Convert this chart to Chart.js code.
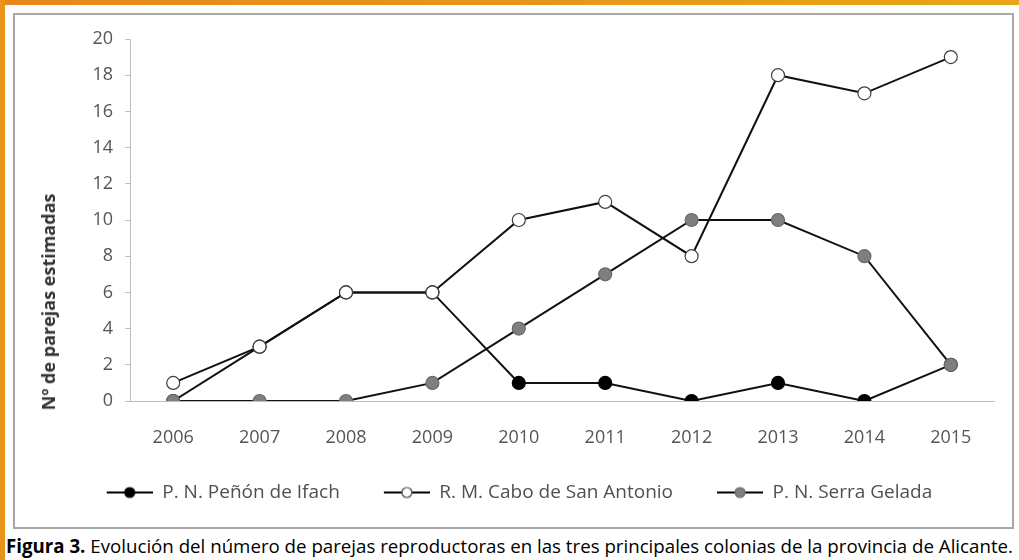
<!DOCTYPE html>
<html lang="es">
<head>
<meta charset="UTF-8">
<title>Figura 3</title>
<script src="https://cdn.jsdelivr.net/npm/chart.js"></script>
<style>
    html, body {
        margin: 0;
        padding: 0;
        width: 1019px;
        height: 560px;
        overflow: hidden;
        background: #fff;
        font-family: "Open Sans", sans-serif;
    }
    .topbar {
        position: absolute; left: 0; top: 0; width: 1019px; height: 5px;
        background: linear-gradient(to right, #e8861a, #e6a617);
    }
    .leftbar {
        position: absolute; left: 0; top: 0; width: 5px; height: 560px;
        background: #e8941a;
    }
    .frame {
        position: absolute; left: 13px; top: 13px; width: 997px; height: 512px;
        border: 2px solid #a8a8a8;
        background: #fff;
    }
    .chart-box {
        position: absolute; left: 0; top: 0; width: 997px; height: 512px;
    }
    .ytitle {
        position: absolute; left: 33px; top: 287px;
        transform: translate(-50%, -50%) rotate(-90deg);
        font-size: 18px; font-weight: 700; color: #333;
        white-space: nowrap;
    }
    .caption {
        position: absolute; left: 6px; top: 533px;
        font-size: 18.7px;
        color: #000;
        white-space: nowrap;
    }
    .caption b { font-weight: 700; }
</style>
</head>
<body>
<div class="topbar"></div>
<div class="leftbar"></div>
<div class="frame">
    <div class="chart-box"><canvas id="lineChart"></canvas></div>
    <div class="ytitle">Nº de parejas estimadas</div>
</div>
<div class="caption"><b>Figura 3.</b> Evolución del número de parejas reproductoras en las tres principales colonias de la provincia de Alicante.</div>

<script>
    // datos
    const years = ['2006', '2007', '2008', '2009', '2010', '2011', '2012', '2013', '2014', '2015'];
    const penonIfach = [0, 3, 6, 6, 1, 1, 0, 1, 0, 2];
    const caboSanAntonio = [1, 3, 6, 6, 10, 11, 8, 18, 17, 19];
    const serraGelada = [0, 0, 0, 1, 4, 7, 10, 10, 8, 2];
    const seriesNames = ['P. N. Peñón de Ifach', 'R. M. Cabo de San Antonio', 'P. N. Serra Gelada'];

    // icono de leyenda: hueco a la izquierda + línea con marcador
    const ICON_GAP = 30;
    function legendIcon(fill, stroke) {
        const c = document.createElement('canvas');
        c.width = ICON_GAP + 46; c.height = 14;
        const g = c.getContext('2d');
        g.strokeStyle = '#000';
        g.lineWidth = 2;
        g.beginPath(); g.moveTo(ICON_GAP, 7); g.lineTo(ICON_GAP + 46, 7); g.stroke();
        g.beginPath(); g.arc(ICON_GAP + 23, 7, 5, 0, Math.PI * 2);
        g.fillStyle = fill; g.fill();
        g.lineWidth = 1.2; g.strokeStyle = stroke; g.stroke();
        return c;
    }

    const styles = [
        { fill: '#000000', stroke: '#000000' },
        { fill: '#ffffff', stroke: '#404040' },
        { fill: '#7f7f7f', stroke: '#6a6a6a' }
    ];
    const icons = styles.map(s => legendIcon(s.fill, s.stroke));

    const ctx = document.getElementById('lineChart').getContext('2d');
    new Chart(ctx, {
        type: 'line',
        data: {
            labels: years,
            datasets: [penonIfach, caboSanAntonio, serraGelada].map((d, i) => ({
                label: seriesNames[i],
                data: d,
                borderColor: '#111',
                borderWidth: 2,
                pointRadius: 6.5,
                pointHoverRadius: 6.5,
                pointBackgroundColor: styles[i].fill,
                pointBorderColor: styles[i].stroke,
                pointBorderWidth: 1.2,
                pointStyle: 'circle',
                tension: 0,
                order: [2, 1, 0][i]
            }))
        },
        options: {
            responsive: true,
            maintainAspectRatio: false,
            animation: false,
            layout: { padding: { top: 24, right: 18, left: 0, bottom: 15 } },
            plugins: {
                tooltip: { enabled: false },
                legend: {
                    position: 'bottom',
                    labels: {
                        usePointStyle: true,
                        pointStyleWidth: ICON_GAP + 46,
                        generateLabels: (chart) => chart.data.datasets.map((ds, i) => ({
                            text: ds.label,
                            pointStyle: icons[i],
                            fontColor: '#505050',
                            datasetIndex: i,
                            lineWidth: 0
                        })),
                        sort: (a, b) => a.datasetIndex - b.datasetIndex,
                        font: { family: 'Open Sans', size: 19 },
                        color: '#505050',
                        padding: 14
                    }
                }
            },
            scales: {
                x: {
                    offset: true,
                    grid: { display: false, drawTicks: false },
                    border: { display: true, color: '#bdbdbd', width: 1 },
                    ticks: { font: { family: 'Open Sans', size: 18 }, color: '#555', padding: 26 },
                    afterFit: (scale) => { scale.height = 68; }
                },
                y: {
                    min: 0,
                    max: 20,
                    ticks: { stepSize: 2, font: { family: 'Open Sans', size: 18 }, color: '#555', padding: 12 },
                    grid: { drawOnChartArea: false, drawTicks: true, tickLength: 5, color: '#bdbdbd' },
                    border: { display: true, color: '#bdbdbd', width: 1 },
                    afterFit: (scale) => { scale.width = 115; }
                }
            }
        }
    });
</script>
</body>
</html>
